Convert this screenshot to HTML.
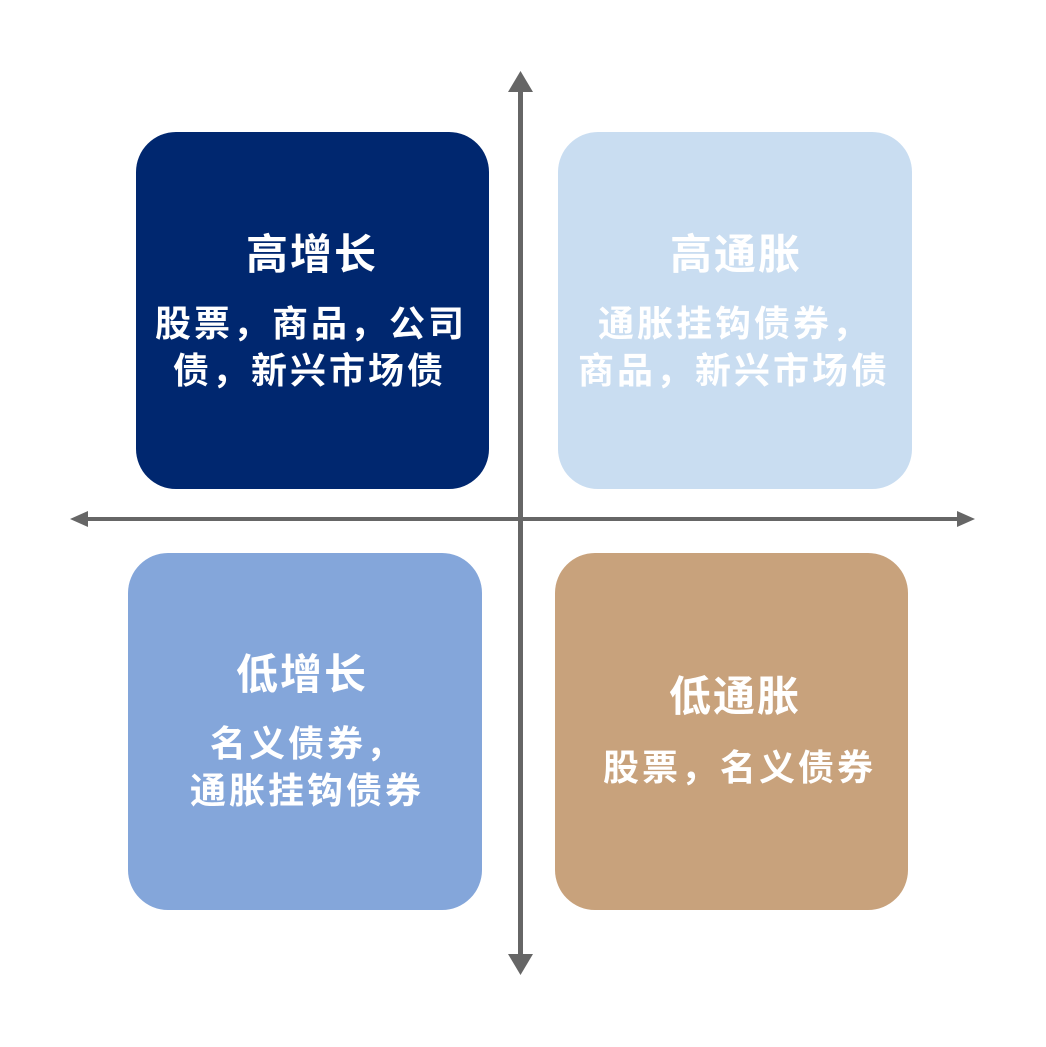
<!DOCTYPE html>
<html><head><meta charset="utf-8"><style>
body{margin:0;background:#fff;}
.c{position:relative;width:1046px;height:1047px;overflow:hidden;font-family:"Liberation Sans","Noto Sans CJK SC",sans-serif;font-weight:bold;color:#fff;}
.b{position:absolute;border-radius:40px;}
.t{position:absolute;white-space:nowrap;line-height:1;}
.h{font-size:42px;letter-spacing:2px;line-height:42px;}
.p{font-size:36px;line-height:47px;letter-spacing:3px;}
</style></head><body><div class="c">
<div class="b" style="left:136px;top:132px;width:353px;height:357px;background:#00276f"></div>
<div class="b" style="left:558px;top:132px;width:354px;height:357px;background:#c9ddf1"></div>
<div class="b" style="left:128px;top:553px;width:354px;height:357px;background:#84a6da"></div>
<div class="b" style="left:555px;top:553px;width:353px;height:357px;background:#c8a27c"></div>
<svg style="position:absolute;left:0;top:0" width="1046" height="1047">
<g fill="#666" stroke="none">
<rect x="518" y="88" width="5" height="866"/>
<polygon points="520.5,71 508,92 533,92"/>
<polygon points="520.5,975 508,954 533,954"/>
<rect x="86" y="517" width="874" height="4"/>
<polygon points="70,519 88,511 88,527"/>
<polygon points="975,519 957,511 957,527"/>
</g></svg>
<div class="t h" style="left:246px;top:234px;">高增长</div>
<div class="t p" style="left:155px;top:300px;">股票，商品，公司</div>
<div class="t p" style="left:173px;top:347px;">债，新兴市场债</div>
<div class="t h" style="left:670px;top:234px;">高通胀</div>
<div class="t p" style="left:598px;top:300px;">通胀挂钩债券，</div>
<div class="t p" style="left:578px;top:347px;">商品，新兴市场债</div>
<div class="t h" style="left:236px;top:654px;">低增长</div>
<div class="t p" style="left:210px;top:720px;">名义债券，</div>
<div class="t p" style="left:190px;top:767px;">通胀挂钩债券</div>
<div class="t h" style="left:669px;top:676px;">低通胀</div>
<div class="t p" style="left:603px;top:744px;">股票，名义债券</div>
</div></body></html>
